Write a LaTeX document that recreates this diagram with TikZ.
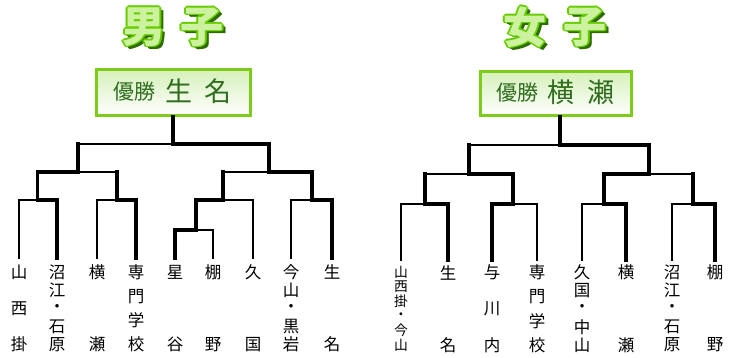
\documentclass[tikz,border=0pt]{standalone}
\usepackage{fontspec}
\newfontfamily\jp{Noto Sans CJK JP}
\usetikzlibrary{calc}
\definecolor{tfill}{HTML}{CCF2A0}
\definecolor{tline}{HTML}{66CC00}
\definecolor{tdark}{HTML}{2E6B00}
\definecolor{bline}{HTML}{7DCC1A}
\definecolor{btop}{HTML}{D6F0BA}
\definecolor{btext}{HTML}{2F6E1F}
\tikzset{
  thinl/.style={line width=1.3pt, line cap=rect},
  thickl/.style={line width=3.2pt, line cap=rect},
  lab/.style={inner sep=0pt, font=\jp\fontsize{16.5}{16.5}\selectfont},
  labs/.style={inner sep=0pt, font=\jp\fontsize{13.8}{13.8}\selectfont},
  ttl/.style={inner sep=0pt, font=\jp\bfseries\fontsize{43}{43}\selectfont},
  winbox/.style={draw=bline, line width=3pt, top color=btop, bottom color=white, inner sep=0pt},
  small/.style={inner sep=0pt, text=btext, font=\jp\fontsize{21}{21}\selectfont},
  big/.style={inner sep=0pt, text=btext, font=\jp\fontsize{27}{27}\selectfont},
}
\newcommand\ttchar[4]{%
  \foreach \d in {1,...,4}{\node[ttl, text=tdark] (#1-s\d) at ($(#2,#3)+(\d*0.9,\d*0.9)$) {#4};}
  \foreach \a in {0,45,...,315}{\node[ttl, text=tline] (#1-o\a) at ($(#2,#3)+(\a:1.6)$) {#4};}
  \node[ttl, text=tfill] (#1) at (#2,#3) {#4};
}
\newcommand\vlab[4]{%
  \foreach \c [count=\i] in {#3}{\xdef\vn{\i}}
  \foreach \c [count=\i] in {#3}{\node[#4] (#1-\i) at ($(#1)+(0,{#2+(\i-1)*72.5/(\vn-1)})$) {\c};}
}
\newcommand\match[6]{%
  \draw[thinl] (#2 |- #1) -- (#3 |- #1);
  \draw[#5] (#2) -- (#2 |- #1);
  \draw[#6] (#3) -- (#3 |- #1);
  \draw[thickl] (#4 |- #1) -- (#1);
}
\begin{document}
\begin{tikzpicture}[x=1pt,y=-1pt]
\useasboundingbox (0,0) rectangle (733,358);
% titles
\ttchar{tm1}{144}{27}{男}
\ttchar{tm2}{202}{27}{子}
\ttchar{tf1}{525}{27}{女}
\ttchar{tf2}{585}{27}{子}
% winner boxes
\node[winbox, minimum width=154pt, minimum height=46pt] (boxL) at (173.5,92.5) {};
\node[small] (boxL-a) at (134,92) {優勝};
\node[big] (boxL-b) at (179,91) {生};
\node[big] (boxL-c) at (217.5,91) {名};
\node[winbox, minimum width=151pt, minimum height=44pt] (boxR) at (556,93.5) {};
\node[small] (boxR-a) at (517.5,93) {優勝};
\node[big] (boxR-b) at (561,92) {横};
\node[big] (boxR-c) at (601,92) {瀬};
% left bracket leaves
\foreach \n/\x in {a1/19,a2/57,a3/97,a4/136,a5/175,a6/213,a7/253,a8/291,a9/332}
  \coordinate (\n) at (\x,258);
\coordinate (m1) at (37.7,200);
\coordinate (m2) at (117,200);
\coordinate (m3) at (196,230);
\coordinate (m4) at (223,200);
\coordinate (m5) at (312,200);
\coordinate (s1) at (78,172);
\coordinate (s2) at (269,172);
\coordinate (fl) at (173,144);
\match{m1}{a1}{a2}{a2}{thinl}{thickl}
\match{m2}{a3}{a4}{a4}{thinl}{thickl}
\match{m3}{a5}{a6}{a5}{thickl}{thinl}
\match{m4}{m3}{a7}{m3}{thickl}{thinl}
\match{m5}{a8}{a9}{a9}{thinl}{thickl}
\match{s1}{m1}{m2}{m1}{thickl}{thickl}
\match{s2}{m4}{m5}{m5}{thickl}{thickl}
\match{fl}{s1}{s2}{s2}{thickl}{thickl}
\draw[thickl] (fl) -- (fl |- boxL.south);
% right bracket leaves
\foreach \n/\x in {b1/401,b2/448,b3/492,b4/537,b5/582,b6/626,b7/672,b8/715}
  \coordinate (\n) at (\x,260);
\coordinate (n1) at (425,204);
\coordinate (n2) at (513,204);
\coordinate (n3) at (604,204);
\coordinate (n4) at (693,204);
\coordinate (t1) at (469,174);
\coordinate (t2) at (649,174);
\coordinate (fr) at (560,145);
\match{n1}{b1}{b2}{b2}{thinl}{thickl}
\match{n2}{b3}{b4}{b3}{thickl}{thinl}
\match{n3}{b5}{b6}{b6}{thinl}{thickl}
\match{n4}{b7}{b8}{b8}{thinl}{thickl}
\match{t1}{n1}{n2}{n2}{thickl}{thickl}
\match{t2}{n3}{n4}{n3}{thickl}{thickl}
\match{fr}{t1}{t2}{t2}{thickl}{thickl}
\draw[thickl] (fr) -- (fr |- boxR.south);
% labels left
\vlab{a1}{14}{山,西,掛}{lab}
\vlab{a2}{14}{沼,江,・,石,原}{lab}
\vlab{a3}{14}{横,瀬}{lab}
\vlab{a4}{14}{専,門,学,校}{lab}
\vlab{a5}{14}{星,谷}{lab}
\vlab{a6}{14}{棚,野}{lab}
\vlab{a7}{14}{久,国}{lab}
\vlab{a8}{14}{今,山,・,黒,岩}{lab}
\vlab{a9}{14}{生,名}{lab}
% labels right
\vlab{b1}{12.5}{山,西,掛,・,今,山}{labs}
\vlab{b2}{12.5}{生,名}{lab}
\vlab{b3}{12.5}{与,川,内}{lab}
\vlab{b4}{12.5}{専,門,学,校}{lab}
\vlab{b5}{12.5}{久,国,・,中,山}{lab}
\vlab{b6}{12.5}{横,瀬}{lab}
\vlab{b7}{12.5}{沼,江,・,石,原}{lab}
\vlab{b8}{12.5}{棚,野}{lab}
\end{tikzpicture}
\end{document}
